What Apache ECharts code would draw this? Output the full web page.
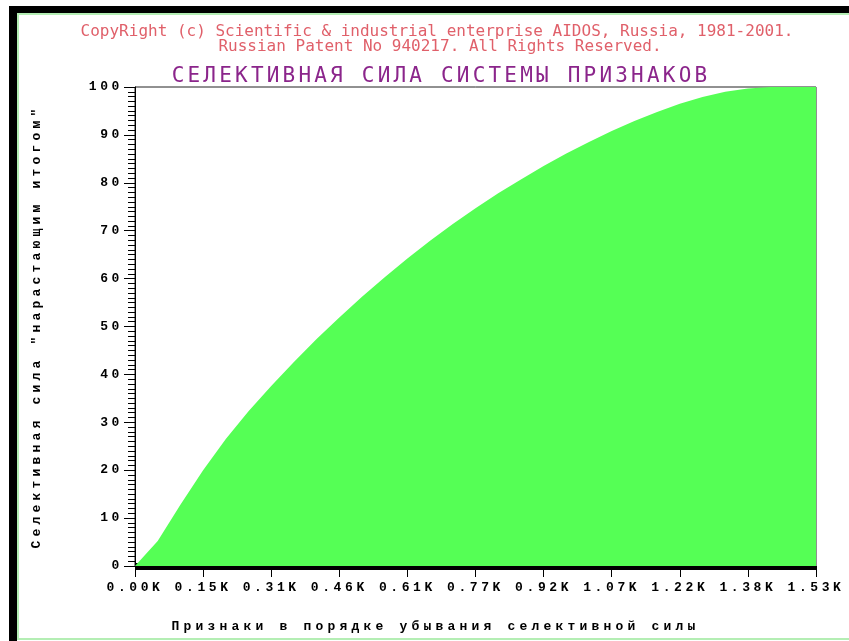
<!DOCTYPE html>
<html>
<head>
<meta charset="utf-8">
<script src="https://cdn.jsdelivr.net/npm/echarts@6/dist/echarts.min.js"></script>
<style>
html,body{margin:0;padding:0;background:#ffffff;}
#chart{width:849px;height:641px;}
</style>
</head>
<body>
<div id="chart"></div>
<script>
// ---- data ----
const copyrightLine1 = 'CopyRight (c) Scientific & industrial enterprise AIDOS, Russia, 1981-2001.';
const copyrightLine2 = 'Russian Patent No 940217. All Rights Reserved.';
const chartTitle = 'СЕЛЕКТИВНАЯ СИЛА СИСТЕМЫ ПРИЗНАКОВ';
const xAxisTitle = 'Признаки в порядке убывания селективной силы';
const yAxisTitle = 'Селективная сила "нарастающим итогом"';

const xTickLabels = ['0.00K','0.15K','0.31K','0.46K','0.61K','0.77K','0.92K','1.07K','1.22K','1.38K','1.53K'];
const yTickLabels = ['0','10','20','30','40','50','60','70','80','90','100'];

const featureCount = [0,51,102,153,204,255,306,357,408,459,510,561,612,663,714,765,816,867,918,969,1020,1071,1122,1173,1224,1275,1326,1377,1428,1479,1530];
const selectivePower = [0,5.2,12.8,20.0,26.5,32.3,37.6,42.6,47.4,51.9,56.2,60.3,64.2,67.9,71.4,74.7,77.8,80.7,83.5,86.1,88.5,90.8,92.9,94.8,96.5,97.9,99.0,99.7,100,100,100];

// ---- wide letter spacing for the bitmap-like fonts ----
(function(){
  const P = CanvasRenderingContext2D.prototype;
  const ft = P.fillText;
  P.fillText = function(){
    const f = this.font || '';
    let ls = '0px';
    if (f.indexOf('Liberation Mono') >= 0) ls = (f.indexOf('13px') >= 0 && f.indexOf('900') < 0) ? '3.6px' : '4.2px';
    else if (f.indexOf('DejaVu Sans Mono') >= 0 && f.indexOf('21px') >= 0) ls = '3.2px';
    const has = ('letterSpacing' in this);
    const prev = has ? this.letterSpacing : null;
    if (has) this.letterSpacing = ls;
    const r = ft.apply(this, arguments);
    if (has) this.letterSpacing = prev;
    return r;
  };
})();

const chart = echarts.init(document.getElementById('chart'), null, {renderer:'canvas'});
const xMax = 1530, xStep = 153;
const option = {
  animation: false,
  backgroundColor: '#ffffff',
  title: [
    {text: copyrightLine1, left: 432, top: 19, textAlign: 'center',
     textStyle: {color:'#e0606a', fontFamily:'DejaVu Sans Mono', fontSize:16, fontWeight:'normal'}},
    {text: copyrightLine2, left: 435, top: 34, textAlign: 'center',
     textStyle: {color:'#e0606a', fontFamily:'DejaVu Sans Mono', fontSize:16, fontWeight:'normal'}},
    {text: chartTitle, left: 436, top: 61, textAlign: 'center',
     textStyle: {color:'#8b258b', fontFamily:'DejaVu Sans Mono', fontSize:21, fontWeight:'normal'}}
  ],
  graphic: [
    {type:'rect', shape:{x:9,y:6,width:8,height:635}, style:{fill:'#000'}, silent:true},
    {type:'rect', shape:{x:9,y:6,width:840,height:7}, style:{fill:'#000'}, silent:true},
    {type:'rect', shape:{x:17,y:13,width:2,height:627}, style:{fill:'#b4eeb4'}, silent:true},
    {type:'rect', shape:{x:17,y:13,width:832,height:2}, style:{fill:'#b4eeb4'}, silent:true},
    {type:'rect', shape:{x:17,y:638,width:832,height:2}, style:{fill:'#b4eeb4'}, silent:true}
  ],
  grid: {left:135, top:87, width:681, height:479, show:true, backgroundColor:'#ffffff', borderColor:'#222222', borderWidth:1, containLabel:false},
  xAxis: {
    type:'value', min:0, max:xMax, interval:xStep, offset:3.5,
    name: xAxisTitle, nameLocation:'middle', nameGap:51,
    nameTextStyle:{color:'#000', fontFamily:'Liberation Mono', fontSize:13, fontWeight:900, padding:[0,80,0,0]},
    axisLine:{show:true, symbol:'none', lineStyle:{color:'#000', width:7, cap:'butt'}},
    axisTick:{show:true, length:11, lineStyle:{color:'#000', width:1}},
    axisLabel:{show:true, margin:12, color:'#000', fontFamily:'Liberation Mono', fontSize:13, fontWeight:'bold',
      formatter:function(v){ return xTickLabels[Math.round(v / xStep)]; }},
    splitLine:{show:false}
  },
  yAxis: {
    type:'value', min:0, max:100, interval:10,
    name: yAxisTitle, nameLocation:'middle', nameGap:92, nameRotate:90,
    nameTextStyle:{color:'#000', fontFamily:'Liberation Mono', fontSize:13, fontWeight:900},
    axisLine:{show:true, symbol:'none', lineStyle:{color:'#000', width:1}},
    axisTick:{show:true, length:11, lineStyle:{color:'#000', width:1}},
    minorTick:{show:true, splitNumber:10, length:7, lineStyle:{color:'#000', width:1}},
    axisLabel:{show:true, margin:12, color:'#000', fontFamily:'Liberation Mono', fontSize:13, fontWeight:'bold',
      formatter:function(v){ return yTickLabels[Math.round(v / 10)]; }},
    splitLine:{show:false}
  },
  series: [{
    type:'line',
    data: featureCount.map(function(x, i){ return [x, selectivePower[i]]; }),
    symbol:'none', showSymbol:false, smooth:false,
    lineStyle:{color:'#55ff55', width:0},
    areaStyle:{color:'#55ff55', opacity:1},
    z:1
  }]
};
chart.setOption(option);
</script>
</body>
</html>
